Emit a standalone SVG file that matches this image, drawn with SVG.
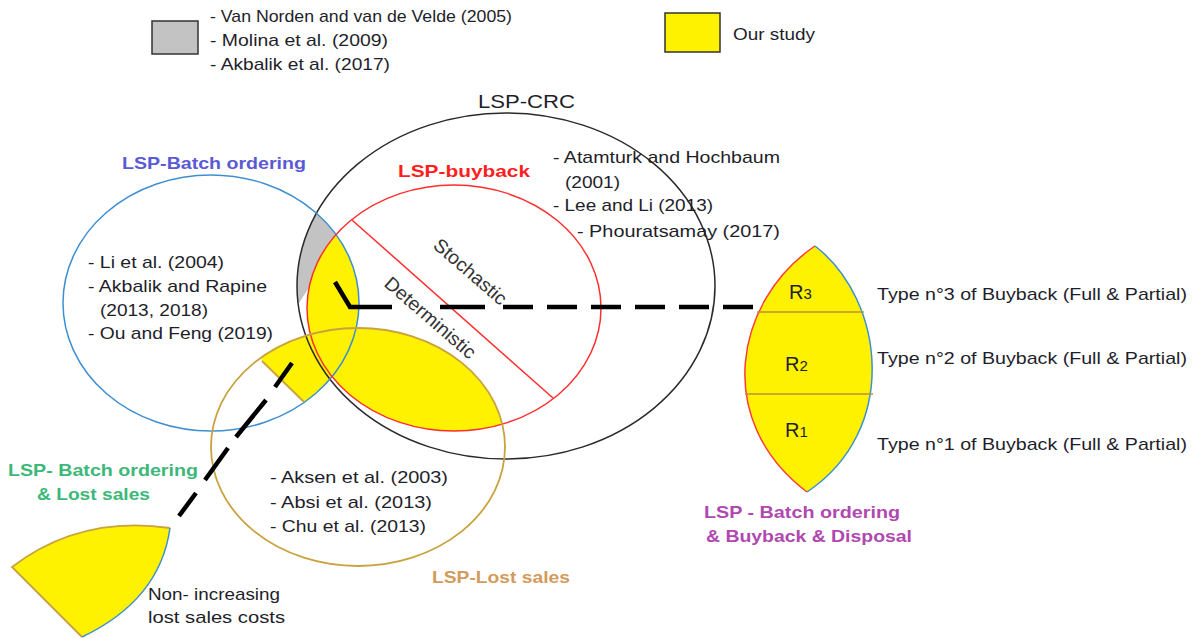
<svg xmlns="http://www.w3.org/2000/svg" width="1195" height="639" viewBox="0 0 1195 639">
<style>
text{font-family:"Liberation Sans",Arial,sans-serif;fill:#1e1e2a;font-size:17px}
.b{font-weight:bold}
.o{fill:none}
.yel{fill:#fff200}
.dash{fill:none;stroke:#000;stroke-width:4.5;stroke-linecap:butt;stroke-linejoin:miter}
</style>
<defs>
<clipPath id="cBlue"><ellipse cx="211" cy="303" rx="148" ry="128"/></clipPath>
<clipPath id="cTan"><ellipse cx="358" cy="447" rx="147" ry="119"/></clipPath>
<clipPath id="cTop"><polygon points="0,0 600,0 600,200 322,268 297,306 0,306"/></clipPath>
<clipPath id="cHalf"><polygon points="262,361 304,402 330,430 520,430 520,250 240,250"/></clipPath>
</defs>
<rect width="1195" height="639" fill="#fff"/>
<g id="legend">
<rect x="152" y="21" width="46" height="33" fill="#c3c3c3" stroke="#333" stroke-width="1.5"/>
<text x="210" y="22" textLength="302" lengthAdjust="spacingAndGlyphs">- Van Norden and van de Velde (2005)</text>
<text x="210" y="46" textLength="178" lengthAdjust="spacingAndGlyphs">- Molina et al. (2009)</text>
<text x="210" y="70" textLength="180" lengthAdjust="spacingAndGlyphs">- Akbalik et al. (2017)</text>
<rect x="665" y="13" width="55" height="39" fill="#fff200" stroke="#333" stroke-width="1.5"/>
<text x="733" y="40" textLength="82" lengthAdjust="spacingAndGlyphs">Our study</text>
</g>
<g id="fills">
<g clip-path="url(#cBlue)"><ellipse cx="506" cy="286" rx="209" ry="173" fill="#c3c3c3" clip-path="url(#cTop)"/></g>
<g clip-path="url(#cBlue)"><ellipse class="yel" cx="454" cy="308" rx="147" ry="123"/></g>
<g clip-path="url(#cTan)"><ellipse class="yel" cx="454" cy="308" rx="147" ry="123"/></g>
<g clip-path="url(#cBlue)"><ellipse class="yel" cx="358" cy="447" rx="147" ry="119" clip-path="url(#cHalf)"/></g>
</g>
<g id="node-crc">
<ellipse class="o" cx="506" cy="286" rx="209" ry="173" stroke="#2a2a2a" stroke-width="1.5"/>
<text x="478" y="108" style="font-size:19px" textLength="97" lengthAdjust="spacingAndGlyphs">LSP-CRC</text>
<text x="553" y="163" textLength="227" lengthAdjust="spacingAndGlyphs">- Atamturk and Hochbaum</text>
<text x="565" y="188" textLength="55" lengthAdjust="spacingAndGlyphs">(2001)</text>
<text x="553" y="211" textLength="160" lengthAdjust="spacingAndGlyphs">- Lee and Li (2013)</text>
<text x="577" y="237" textLength="203" lengthAdjust="spacingAndGlyphs">- Phouratsamay (2017)</text>
</g>
<g id="node-batch">
<ellipse class="o" cx="211" cy="303" rx="148" ry="128" stroke="#3d8fd1" stroke-width="1.5"/>
<text class="b" x="122" y="169" style="fill:#5a5ad6" textLength="184" lengthAdjust="spacingAndGlyphs">LSP-Batch ordering</text>
<text x="88" y="268" textLength="136" lengthAdjust="spacingAndGlyphs">- Li et al. (2004)</text>
<text x="88" y="292" textLength="179" lengthAdjust="spacingAndGlyphs">- Akbalik and Rapine</text>
<text x="100" y="316" textLength="108" lengthAdjust="spacingAndGlyphs">(2013, 2018)</text>
<text x="88" y="339" textLength="185" lengthAdjust="spacingAndGlyphs">- Ou and Feng (2019)</text>
</g>
<g id="node-buyback">
<ellipse class="o" cx="454" cy="308" rx="147" ry="123" stroke="#ff2d2d" stroke-width="1.5"/>
<line x1="352" y1="220" x2="553" y2="398" stroke="#ff2d2d" stroke-width="1.5"/>
<text class="b" x="398" y="177" style="fill:#ff1e1e" textLength="132" lengthAdjust="spacingAndGlyphs">LSP-buyback</text>
<text transform="translate(470,272) rotate(41)" x="0" y="6" text-anchor="middle" style="fill:#333;font-size:19px" textLength="90" lengthAdjust="spacingAndGlyphs">Stochastic</text>
<text transform="translate(430,318) rotate(41)" x="0" y="6" text-anchor="middle" style="fill:#333;font-size:19px" textLength="114" lengthAdjust="spacingAndGlyphs">Deterministic</text>
</g>
<g id="node-lost">
<ellipse class="o" cx="358" cy="447" rx="147" ry="119" stroke="#c9a23e" stroke-width="1.8"/>
<line x1="262" y1="361" x2="304" y2="402" stroke="#c9a23e" stroke-width="1.8"/>
<text x="270" y="483" textLength="178" lengthAdjust="spacingAndGlyphs">- Aksen et al. (2003)</text>
<text x="270" y="508" textLength="162" lengthAdjust="spacingAndGlyphs">- Absi et al. (2013)</text>
<text x="270" y="532" textLength="156" lengthAdjust="spacingAndGlyphs">- Chu et al. (2013)</text>
<text class="b" x="432" y="583" style="fill:#d39b5b" textLength="138" lengthAdjust="spacingAndGlyphs">LSP-Lost sales</text>
</g>
<g id="node-lens">
<path d="M815,246 C735,300 712,420 807,492 C900,430 885,300 815,246 Z" fill="#fff200"/>
<path d="M815,246 C735,300 712,420 807,492" fill="none" stroke="#ff3a3a" stroke-width="1.5"/>
<path d="M815,246 C885,300 900,430 807,492" fill="none" stroke="#3d8fd1" stroke-width="1.5"/>
<line x1="757" y1="312" x2="864" y2="312" stroke="#b8913a" stroke-width="1.5"/>
<line x1="745" y1="394" x2="873" y2="394" stroke="#b8913a" stroke-width="1.5"/>
<text x="789" y="299" style="font-size:20px">R<tspan style="font-size:15px">3</tspan></text>
<text x="785" y="371" style="font-size:20px">R<tspan style="font-size:15px">2</tspan></text>
<text x="785" y="437" style="font-size:20px">R<tspan style="font-size:15px">1</tspan></text>
<text x="877" y="300" textLength="310" lengthAdjust="spacingAndGlyphs">Type n°3 of Buyback (Full &amp; Partial)</text>
<text x="877" y="364" textLength="310" lengthAdjust="spacingAndGlyphs">Type n°2 of Buyback (Full &amp; Partial)</text>
<text x="877" y="450" textLength="310" lengthAdjust="spacingAndGlyphs">Type n°1 of Buyback (Full &amp; Partial)</text>
<text class="b" x="704" y="518" style="fill:#b048b0" textLength="196" lengthAdjust="spacingAndGlyphs">LSP - Batch ordering</text>
<text class="b" x="706" y="542" style="fill:#b048b0" textLength="206" lengthAdjust="spacingAndGlyphs">&amp; Buyback &amp; Disposal</text>
</g>
<g id="node-wedge">
<path d="M12,567 Q80,515 170,528 Q160,600 82,637 Z" fill="#fff200"/>
<path d="M82,637 L12,567 Q80,515 170,528" fill="none" stroke="#c9a23e" stroke-width="1.8"/>
<path d="M170,528 Q160,600 82,637" fill="none" stroke="#3d8fd1" stroke-width="1.5"/>
<text class="b" x="8" y="476" style="fill:#3cb878" textLength="190" lengthAdjust="spacingAndGlyphs">LSP- Batch ordering</text>
<text class="b" x="37" y="500" style="fill:#3cb878" textLength="113" lengthAdjust="spacingAndGlyphs">&amp; Lost sales</text>
<text x="148" y="600" textLength="132" lengthAdjust="spacingAndGlyphs">Non- increasing</text>
<text x="148" y="623" textLength="137" lengthAdjust="spacingAndGlyphs">lost sales costs</text>
</g>
<g id="connectors">
<path class="dash" d="M335,282 L350,307 H392 M440,307 H485 M503,307 H533 M547,307 H577 M591,307 H621 M635,307 H665 M679,307 H709 M723,307 H753"/>
<path class="dash" d="M292,363 L275,387 M266,400 L236,437 M228,448 L205,480 M196,493 L179,516"/>
</g>
</svg>
